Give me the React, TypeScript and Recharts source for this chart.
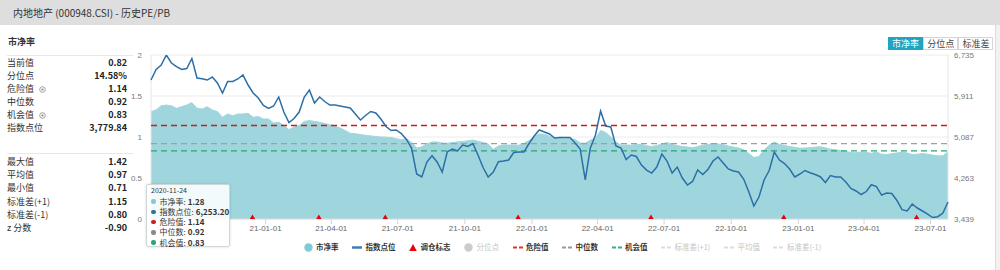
import React from 'react';
import { ComposedChart, Area, Line, Scatter, XAxis, YAxis, CartesianGrid, ReferenceLine } from 'recharts';

const dates = [
  '2020-07-28',
  '2020-08-04','2020-08-11','2020-08-18','2020-08-25',
  '2020-09-01','2020-09-08','2020-09-15','2020-09-22','2020-09-29',
  '2020-10-06','2020-10-13','2020-10-20','2020-10-27',
  '2020-11-03','2020-11-10','2020-11-17','2020-11-24',
  '2020-12-01','2020-12-08','2020-12-15','2020-12-22','2020-12-29',
  '2021-01-05','2021-01-12','2021-01-19','2021-01-26',
  '2021-02-02','2021-02-09','2021-02-16','2021-02-23',
  '2021-03-02','2021-03-09','2021-03-16','2021-03-23','2021-03-30',
  '2021-04-06','2021-04-13','2021-04-20','2021-04-27',
  '2021-05-04','2021-05-11','2021-05-18','2021-05-25',
  '2021-06-01','2021-06-08','2021-06-15','2021-06-22','2021-06-29',
  '2021-07-06','2021-07-13','2021-07-20','2021-07-27',
  '2021-08-03','2021-08-10','2021-08-17','2021-08-24','2021-08-31',
  '2021-09-07','2021-09-14','2021-09-21','2021-09-28',
  '2021-10-05','2021-10-12','2021-10-19','2021-10-26',
  '2021-11-02','2021-11-09','2021-11-16','2021-11-23','2021-11-30',
  '2021-12-07','2021-12-14','2021-12-21','2021-12-28',
  '2022-01-04','2022-01-11','2022-01-18','2022-01-25',
  '2022-02-01','2022-02-08','2022-02-15','2022-02-22',
  '2022-03-01','2022-03-08','2022-03-15','2022-03-22','2022-03-29',
  '2022-04-05','2022-04-12','2022-04-19','2022-04-26',
  '2022-05-03','2022-05-10','2022-05-17','2022-05-24','2022-05-31',
  '2022-06-07','2022-06-14','2022-06-21','2022-06-28',
  '2022-07-05','2022-07-12','2022-07-19','2022-07-26',
  '2022-08-02','2022-08-09','2022-08-16','2022-08-23','2022-08-30',
  '2022-09-06','2022-09-13','2022-09-20','2022-09-27',
  '2022-10-04','2022-10-11','2022-10-18','2022-10-25',
  '2022-11-01','2022-11-08','2022-11-15','2022-11-22','2022-11-29',
  '2022-12-06','2022-12-13','2022-12-20','2022-12-27',
  '2023-01-03','2023-01-10','2023-01-17','2023-01-24','2023-01-31',
  '2023-02-07','2023-02-14','2023-02-21','2023-02-28',
  '2023-03-07','2023-03-14','2023-03-21','2023-03-28',
  '2023-04-04','2023-04-11','2023-04-18','2023-04-25',
  '2023-05-02','2023-05-09','2023-05-16','2023-05-23','2023-05-30',
  '2023-06-06','2023-06-13','2023-06-20','2023-06-27',
  '2023-07-04','2023-07-11','2023-07-18','2023-07-25',
];

const pbValues = [
  1.31, 1.33, 1.38, 1.39, 1.38, 1.35, 1.37, 1.39, 1.42, 1.35,
  1.34, 1.37, 1.33, 1.31, 1.24, 1.28, 1.26, 1.28, 1.28, 1.29,
  1.24, 1.25, 1.22, 1.22, 1.17, 1.18, 1.14, 1.09, 1.12, 1.14,
  1.19, 1.2, 1.19, 1.18, 1.165, 1.15, 1.13, 1.11, 1.08, 1.045,
  1.04, 1.03, 1.02, 1.013, 1.006, 1.0, 0.998, 0.993, 0.98, 0.967,
  0.982, 0.933, 0.866, 0.88, 0.915, 0.94, 0.94, 0.927, 0.923, 0.933,
  0.94, 0.945, 0.954, 0.963, 0.948, 0.933, 0.915, 0.85, 0.89, 0.902,
  0.902, 0.902, 0.9, 0.923, 0.957, 1.006, 1.037, 1.033, 1.009, 0.988,
  0.996, 0.994, 0.98, 0.97, 0.927, 0.923, 0.963, 0.984, 1.08, 1.055,
  1.0, 0.94, 0.902, 0.902, 0.9, 0.909, 0.91, 0.894, 0.884, 0.896,
  0.915, 0.933, 0.909, 0.895, 0.884, 0.878, 0.87, 0.884, 0.9, 0.91,
  0.92, 0.915, 0.904, 0.89, 0.878, 0.866, 0.845, 0.8, 0.75, 0.762,
  0.84, 0.9, 0.94, 0.909, 0.896, 0.884, 0.874, 0.863, 0.866, 0.87,
  0.876, 0.882, 0.868, 0.851, 0.845, 0.835, 0.824, 0.81, 0.807, 0.818,
  0.81, 0.802, 0.817, 0.79, 0.787, 0.797, 0.805, 0.817, 0.805, 0.787,
  0.79, 0.799, 0.79, 0.78, 0.77, 0.77, 0.82,
];

const indexValues = [
  6232, 6443, 6534, 6735, 6574, 6500, 6443, 6463, 6665, 6273,
  6259, 6232, 6293, 6172, 5971, 6202, 6202, 6253.2, 6333, 6132,
  5971, 5871, 5720, 5660, 5710, 5891, 5589, 5378, 5459, 5589,
  5891, 6032, 5770, 5891, 5800, 5730, 5730, 5710, 5690, 5670,
  5549, 5429, 5519, 5599, 5569, 5449, 5298, 5218, 5228, 5157,
  5037, 4866, 4343, 4283, 4584, 4711, 4584, 4383, 4791, 4846,
  4806, 4926, 4896, 4956, 4725, 4474, 4283, 4383, 4590, 4604,
  4624, 4775, 4785, 4785, 4956, 5107, 5228, 5188, 5147, 5067,
  5077, 5077, 5077, 4966, 4846, 4223, 4866, 5127, 5610, 5308,
  5288, 4906, 4866, 4635, 4725, 4695, 4524, 4423, 4363, 4484,
  4745, 4604, 4363, 4484, 4263, 4122, 4193, 4423, 4333, 4433,
  4604, 4685, 4564, 4444, 4403, 4383, 4243, 3988, 3700, 3881,
  4223, 4414, 4785, 4624, 4554, 4444, 4283, 4343, 4414, 4369,
  4333, 4289, 4172, 4313, 4283, 4283, 4182, 4052, 4002, 3931,
  3991, 4128, 4092, 3921, 3961, 3951, 3811, 3626, 3600, 3740,
  3660, 3600, 3539, 3469, 3485, 3559, 3779.84,
];

const rebalanceDates = ['2020-12-14', '2021-03-15', '2021-06-14', '2021-12-13', '2022-06-13', '2022-12-12', '2023-06-12'];
const xTickDates = ['2021-01-01', '2021-04-01', '2021-07-01', '2021-10-01', '2022-01-01', '2022-04-01', '2022-07-01', '2022-10-01', '2023-01-01', '2023-04-01', '2023-07-01'];
const pbTicks = [0, 0.5, 1, 1.5, 2];
const indexTicks = [3439, 4263, 5087, 5911, 6735];

const dangerValue = 1.14;
const medianValue = 0.92;
const chanceValue = 0.83;
const tooltipIndex = 17;

const statLabels1 = ['当前值', '分位点', '危险值', '中位数', '机会值', '指数点位'];
const statValues1 = ['0.82', '14.58%', '1.14', '0.92', '0.83', '3,779.84'];
const statLabels2 = ['最大值', '平均值', '最小值', '标准差(+1)', '标准差(-1)', 'z 分数'];
const statValues2 = ['1.42', '0.97', '0.71', '1.15', '0.80', '-0.90'];
const buttonLabels = ['市净率', '分位点', '标准差'];

const C_AREA = '#9fd6de';
const C_LINE = '#2c6fa6';
const C_RED = '#cc1d1d';
const C_GRAY = '#a0a0a0';
const C_GREEN = '#2aa56c';
const C_TRI = '#e8000b';
const C_TEAL = '#1ea5c4';

const toT = (s: string) => Date.parse(s + 'T00:00:00Z');
const pad = (n: number) => (n < 10 ? '0' + n : String(n));
const fmtX = (t: number) => {
  const d = new Date(t);
  return `${String(d.getUTCFullYear()).slice(2)}-${pad(d.getUTCMonth() + 1)}-${pad(d.getUTCDate())}`;
};
const fmtIdx = (v: number) => Math.round(v).toLocaleString('en-US');

const data = dates.map((d, i) => ({ t: toT(d), pb: pbValues[i], idx: indexValues[i] }));
const marks = rebalanceDates.map((d) => ({ t: toT(d), y: 0 }));
const xTicks = xTickDates.map(toT);

const Triangle = (props: any) => {
  const { cx, cy } = props;
  if (cx == null || cy == null) return null;
  return <path d={`M${cx},${cy - 4.5} L${cx + 3.6},${cy + 1.5} L${cx - 3.6},${cy + 1.5} Z`} fill={C_TRI} />;
};

const CJK = '"Noto Sans CJK SC", "Noto Sans", sans-serif';

const InfoIcon = () => (
  <svg width="7" height="7" style={{ marginLeft: 5, verticalAlign: 'middle' }}>
    <circle cx="3.5" cy="3.5" r="2.8" fill="none" stroke="#888" strokeWidth="0.8" />
    <circle cx="3.5" cy="3.5" r="1.1" fill="#888" />
  </svg>
);

const StatRows = ({ labels, values, top }: { labels: string[]; values: string[]; top: number }) => (
  <>
    {labels.map((l, i) => (
      <div
        key={l}
        style={{
          position: 'absolute', left: 7, top: top + i * 13.1, width: 120, height: 13, lineHeight: '13px',
          fontSize: 9, display: 'flex', justifyContent: 'space-between', color: '#333',
        }}
      >
        <span>
          {l}
          {(l === '危险值' || l === '机会值') && <InfoIcon />}
        </span>
        <span style={{ fontWeight: 700, color: '#222' }}>{values[i]}</span>
      </div>
    ))}
  </>
);

const LegendIcon = ({ kind, color }: { kind: string; color: string }) => {
  if (kind === 'circle') return <svg width="9" height="9"><circle cx="4.5" cy="4.5" r="4.2" fill={color} /></svg>;
  if (kind === 'line') return <svg width="10" height="9"><line x1="0" y1="4.5" x2="10" y2="4.5" stroke={color} strokeWidth="2.5" /></svg>;
  if (kind === 'tri') return <svg width="8" height="9"><path d="M4,1 L7.8,8 L0.2,8 Z" fill={color} /></svg>;
  return <svg width="10" height="9"><line x1="0" y1="4.5" x2="10" y2="4.5" stroke={color} strokeWidth="2" strokeDasharray="4 2" /></svg>;
};

const legendItems = [
  { name: '市净率', kind: 'circle', color: '#7ecad6', active: true },
  { name: '指数点位', kind: 'line', color: '#3f7fb3', active: true },
  { name: '调仓标志', kind: 'tri', color: C_TRI, active: true },
  { name: '分位点', kind: 'circle', color: '#cccccc', active: false },
  { name: '危险值', kind: 'dash', color: '#d33', active: true },
  { name: '中位数', kind: 'dash', color: '#999', active: true },
  { name: '机会值', kind: 'dash', color: '#3bb07a', active: true },
  { name: '标准差(+1)', kind: 'dash', color: '#ddd', active: false },
  { name: '平均值', kind: 'dash', color: '#ddd', active: false },
  { name: '标准差(-1)', kind: 'dash', color: '#ddd', active: false },
];

export default function App() {
  const tip = data[tooltipIndex];
  const tipRows = [
    { label: '市净率', value: tip.pb.toFixed(2), color: '#7ecad6' },
    { label: '指数点位', value: tip.idx.toLocaleString('en-US', { minimumFractionDigits: 2, maximumFractionDigits: 2 }), color: C_LINE },
    { label: '危险值', value: dangerValue.toFixed(2), color: C_RED },
    { label: '中位数', value: medianValue.toFixed(2), color: '#888' },
    { label: '机会值', value: chanceValue.toFixed(2), color: C_GREEN },
  ];
  return (
    <div style={{ position: 'fixed', left: 0, top: 0, width: 1000, height: 270, background: '#fff', overflow: 'hidden', fontFamily: CJK }}>
      <div style={{ position: 'absolute', left: 0, top: 0, width: 1000, height: 25, background: '#dedede' }} />
      <div style={{ position: 'absolute', left: 13, top: 5, fontSize: 10, lineHeight: '15px', color: '#333' }}>内地地产 (000948.CSI) - 历史PE/PB</div>
      <div style={{ position: 'absolute', left: 995, top: 25, width: 5, height: 245, background: '#f2f2f2', borderLeft: '1px solid #dcdcdc' }} />

      <div style={{ position: 'absolute', left: 0, top: 0 }}>
        <ComposedChart width={1000} height={270} data={data} margin={{ top: 55, right: 0, bottom: 31, left: 0 }} style={{ fontFamily: '"Liberation Sans", Arial, sans-serif' }}>
          <CartesianGrid vertical={false} stroke="#ececec" yAxisId="pb" />
          <XAxis
            dataKey="t" type="number" domain={['dataMin', 'dataMax']} ticks={xTicks} tickFormatter={fmtX}
            height={20} tickSize={5} tickMargin={1} axisLine={{ stroke: '#dcdcdc' }} tickLine={{ stroke: '#d5d5d5' }}
            tick={{ fontSize: 8, fill: '#666' }} interval={0}
          />
          <YAxis
            yAxisId="pb" orientation="left" width={151} domain={[0, 2]} ticks={pbTicks} allowDataOverflow
            axisLine={false} tickLine={false} tickSize={0} tickMargin={9} tick={{ fontSize: 8, fill: '#777' }}
          />
          <YAxis
            yAxisId="idx" orientation="right" width={52} domain={[3439, 6735]} ticks={indexTicks} allowDataOverflow
            tickFormatter={fmtIdx} axisLine={false} tickLine={false} tickSize={0} tickMargin={6} tick={{ fontSize: 8, fill: '#777' }}
          />
          <Area yAxisId="pb" type="linear" dataKey="pb" fill={C_AREA} fillOpacity={1} stroke={C_AREA} strokeWidth={1} dot={false} activeDot={false} isAnimationActive={false} />
          <ReferenceLine yAxisId="pb" x={data[0].t} stroke="#e6e6e6" />
          <ReferenceLine yAxisId="pb" x={data[data.length - 1].t} stroke="#e6e6e6" />
          <ReferenceLine yAxisId="pb" y={dangerValue} stroke={C_RED} strokeWidth={1.3} strokeDasharray="6 4" />
          <ReferenceLine yAxisId="pb" y={medianValue} stroke={C_GRAY} strokeWidth={1.3} strokeDasharray="6 4" />
          <ReferenceLine yAxisId="pb" y={chanceValue} stroke={C_GREEN} strokeWidth={1.3} strokeDasharray="6 4" />
          <Line yAxisId="idx" type="linear" dataKey="idx" stroke={C_LINE} strokeWidth={1.5} dot={false} activeDot={false} isAnimationActive={false} />
          <Scatter yAxisId="pb" data={marks} dataKey="y" shape={Triangle} isAnimationActive={false} />
        </ComposedChart>
      </div>

      <div style={{ position: 'absolute', left: 8, top: 36, fontSize: 9, lineHeight: '12px', fontWeight: 700, color: '#333' }}>市净率</div>
      <div style={{ position: 'absolute', left: 7, top: 55, width: 126, height: 1, background: '#e8e8e8' }} />
      <StatRows labels={statLabels1} values={statValues1} top={55.8} />
      <div style={{ position: 'absolute', left: 7, top: 153, width: 126, height: 1, background: '#e8e8e8' }} />
      <StatRows labels={statLabels2} values={statValues2} top={155.2} />

      {buttonLabels.map((b, i) => (
        <div
          key={b}
          style={{
            position: 'absolute', left: 888 + i * 35.2, top: 36.5, width: 35, height: 13, boxSizing: 'border-box',
            border: `1px solid ${i === 0 ? C_TEAL : '#d6d6d6'}`, background: i === 0 ? C_TEAL : '#fff',
            color: i === 0 ? '#fff' : '#444', fontSize: 9, lineHeight: '11px', textAlign: 'center',
          }}
        >
          {b}
        </div>
      ))}

      <div
        style={{
          position: 'absolute', left: 146, top: 184, width: 84, height: 63, boxSizing: 'border-box',
          background: 'rgba(255,255,255,0.88)', border: '1px solid #cfd6d8', borderRadius: 2,
          boxShadow: '0 0 3px rgba(0,0,0,0.15)',
        }}
      >
        <div style={{ position: 'absolute', left: 4, top: 1, fontSize: 7, lineHeight: '9px', color: '#333' }}>{dates[tooltipIndex]}</div>
        {tipRows.map((r, i) => (
          <div key={r.label} style={{ position: 'absolute', left: 4, top: 11.5 + i * 10.3, height: 10, display: 'flex', alignItems: 'center', fontSize: 8, lineHeight: '10px', color: '#333', whiteSpace: 'nowrap' }}>
            <span style={{ display: 'inline-block', width: 4.5, height: 4.5, borderRadius: '50%', background: r.color, marginRight: 4 }} />
            <span>{r.label}: </span>
            <span style={{ fontWeight: 700, marginLeft: 2 }}>{r.value}</span>
          </div>
        ))}
      </div>

      <div style={{ position: 'absolute', left: 303.5, top: 242, height: 10, display: 'flex', alignItems: 'center', gap: 13.5, whiteSpace: 'nowrap' }}>
        {legendItems.map((it) => (
          <div key={it.name} style={{ display: 'flex', alignItems: 'center' }}>
            <LegendIcon kind={it.kind} color={it.color} />
            <span style={{ marginLeft: 3.5, fontSize: 7.5, lineHeight: '10px', fontWeight: it.active ? 700 : 400, color: it.active ? '#333' : '#c4c4c4' }}>{it.name}</span>
          </div>
        ))}
      </div>
    </div>
  );
}
